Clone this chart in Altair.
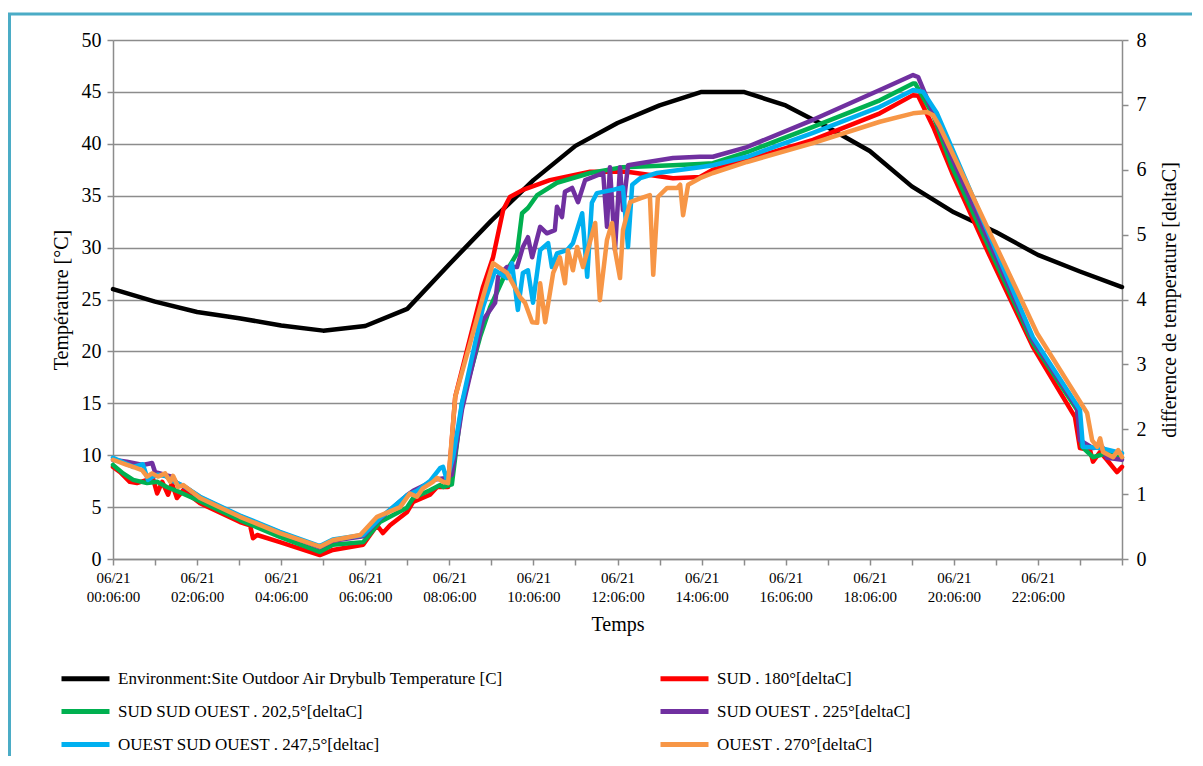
import altair as alt
import pandas as pd

FONT = "Liberation Serif"

# ---------------- data ----------------
hours = list(range(25))  # hours after 06/21 00:06:00
env_temp = [26.0, 24.8, 23.8, 23.2, 22.5, 22.0, 22.45, 24.1, 28.4, 32.6, 36.5, 39.8,
            42.0, 43.7, 45.0, 45.0, 43.7, 41.6, 39.3, 35.9, 33.4, 31.5, 29.3, 27.7, 26.2]

sud_t = [0, 0.17, 0.40, 0.57, 0.81, 0.93, 1.05, 1.17, 1.31, 1.40, 1.52, 1.67, 2.07, 3.02, 3.26,
         3.33, 3.43, 3.97, 4.92, 5.23, 5.95, 6.28, 6.42, 6.59, 6.99, 7.14, 7.54, 7.71, 7.97, 8.14,
         8.80, 9.04, 9.28, 9.44, 9.75, 10.39, 11.35, 12.23, 13.32, 13.96, 14.27, 15.08, 16.65,
         18.24, 19.03, 19.15, 19.51, 19.96, 20.79, 21.88, 22.88, 23.00, 23.24, 23.31, 23.48,
         23.64, 23.88, 24.00]
sud_v = [1.42, 1.34, 1.19, 1.17, 1.22, 1.29, 1.01, 1.19, 0.99, 1.17, 0.94, 1.06, 0.86, 0.57, 0.52,
         0.32, 0.37, 0.26, 0.06, 0.14, 0.22, 0.52, 0.40, 0.52, 0.72, 0.88, 0.99, 1.11, 1.11, 2.50,
         4.19, 4.65, 5.38, 5.58, 5.69, 5.84, 5.97, 5.97, 5.87, 5.89, 6.00, 6.15, 6.46,
         6.87, 7.15, 7.14, 6.66, 5.95, 4.76, 3.27, 2.19, 1.71, 1.68, 1.50, 1.65,
         1.53, 1.34, 1.42]

sso_t = [0, 0.24, 0.48, 0.81, 1.05, 1.28, 1.59, 2.07, 3.02, 3.97, 4.92, 5.23, 5.95, 6.35, 6.99,
         7.14, 7.54, 7.78, 7.85, 8.06, 8.30, 8.73, 8.97, 9.37, 9.61, 9.73, 9.87, 10.09, 10.56,
         11.35, 12.13, 13.32, 13.96, 14.27, 15.08, 16.65, 18.24, 19.03, 19.08, 19.51, 19.96,
         21.88, 22.93, 23.05, 23.31, 23.64, 24.00]
sso_v = [1.45, 1.32, 1.22, 1.17, 1.19, 1.11, 1.03, 0.89, 0.60, 0.34, 0.11, 0.22, 0.26, 0.57, 0.79,
         0.94, 1.06, 1.14, 1.11, 1.15, 2.40, 3.42, 3.88, 4.45, 4.71, 5.33, 5.41, 5.61, 5.80,
         5.95, 6.04, 6.07, 6.09, 6.10, 6.27, 6.66, 7.07, 7.33, 7.33, 6.84, 6.04,
         3.33, 2.30, 1.73, 1.57, 1.63, 1.56]

so_t = [0, 0.33, 0.71, 0.93, 1.00, 1.12, 1.28, 1.40, 1.52, 1.76, 2.07, 3.02, 3.97, 4.92, 5.23,
        5.95, 6.35, 6.99, 7.14, 7.54, 7.61, 7.94, 8.06, 8.30, 8.80, 9.09, 9.16, 9.37, 9.61, 9.75,
        9.87, 9.97, 10.16, 10.32, 10.51, 10.56, 10.68, 10.75, 10.92, 11.06, 11.23, 11.66, 11.75,
        11.82, 11.94, 12.06, 12.13, 12.25, 12.54, 13.32, 13.96, 14.27, 15.08, 16.65, 18.24,
        19.03, 19.15, 19.51, 19.98, 21.88, 22.93, 23.00, 23.31, 23.53, 23.64, 24.00]
so_v = [1.53, 1.50, 1.45, 1.48, 1.34, 1.32, 1.29, 1.27, 1.17, 1.09, 0.95, 0.66, 0.41, 0.18, 0.28,
        0.35, 0.62, 0.98, 1.05, 1.18, 1.22, 1.25, 1.30, 2.30, 3.68, 3.95, 4.35, 4.50, 4.50, 4.81,
        4.96, 4.65, 5.12, 5.02, 5.07, 5.43, 5.27, 5.66, 5.72, 5.50, 5.84, 5.95, 5.12,
        6.04, 4.76, 6.04, 5.38, 6.07, 6.10, 6.18, 6.20, 6.20, 6.35, 6.77, 7.23,
        7.46, 7.43, 6.87, 6.15, 3.38, 2.34, 1.83, 1.71, 1.73, 1.56, 1.53]

oso_t = [0, 0.48, 0.71, 0.83, 0.95, 1.07, 1.24, 1.43, 1.67, 2.07, 3.02, 3.97, 4.92, 5.23, 5.95,
         6.35, 6.99, 7.23, 7.54, 7.78, 7.85, 7.94, 8.09, 8.30, 8.80, 9.09, 9.37, 9.49, 9.63, 9.75,
         9.87, 9.99, 10.16, 10.35, 10.44, 10.56, 10.80, 10.94, 11.16, 11.28, 11.39, 11.51, 11.89,
         12.13, 12.25, 12.35, 12.54, 12.94, 13.96, 14.27, 15.08, 16.65, 18.24, 19.03, 19.27,
         19.60, 20.08, 21.88, 23.00, 23.07, 23.48, 24.00]
oso_v = [1.56, 1.42, 1.46, 1.22, 1.27, 1.30, 1.28, 1.20, 1.13, 0.96, 0.67, 0.42, 0.20, 0.30, 0.37,
         0.63, 0.98, 1.05, 1.20, 1.40, 1.42, 1.22, 1.57, 2.40, 3.88, 4.45, 4.33, 4.56, 3.84, 4.41,
         4.45, 3.95, 4.76, 4.87, 4.50, 4.71, 4.76, 4.87, 5.33, 4.35, 5.49, 5.64, 5.69,
         5.73, 4.81, 5.77, 5.87, 5.95, 6.04, 6.07, 6.20, 6.57, 6.97, 7.23, 7.20,
         6.87, 6.15, 3.42, 2.30, 1.73, 1.71, 1.63]

ouest_t = [0, 0.33, 0.48, 0.69, 0.81, 0.93, 1.07, 1.24, 1.36, 1.43, 1.55, 1.67, 2.07, 3.02, 3.97,
           4.92, 5.23, 5.88, 6.28, 6.83, 7.06, 7.23, 7.37, 7.61, 7.71, 7.85, 7.97, 8.14, 8.80,
           9.04, 9.37, 9.68, 9.80, 9.97, 10.09, 10.16, 10.28, 10.47, 10.63, 10.75, 10.82, 10.94,
           11.04, 11.18, 11.47, 11.58, 11.75, 11.87, 11.94, 12.06, 12.13, 12.30, 12.54, 12.77,
           12.85, 12.96, 13.18, 13.42, 13.49, 13.56, 13.68, 13.96, 14.27, 15.08, 16.65, 18.24,
           19.03, 19.36, 19.51, 19.67, 20.08, 21.98, 23.17, 23.29, 23.41, 23.48, 23.55, 23.79,
           23.91, 24.00]
ouest_v = [1.53, 1.45, 1.42, 1.37, 1.27, 1.32, 1.27, 1.32, 1.19, 1.28, 1.11, 1.14, 0.94, 0.65, 0.40,
           0.19, 0.29, 0.37, 0.65, 0.80, 1.01, 0.96, 1.09, 1.19, 1.25, 1.19, 1.17, 2.50, 4.04,
           4.56, 4.41, 4.04, 3.95, 3.65, 3.64, 4.25, 3.65, 4.41, 4.65, 4.25, 4.76, 4.45,
           4.81, 4.50, 5.18, 3.99, 4.92, 5.18, 4.76, 4.33, 5.07, 5.50, 5.56, 5.61,
           4.38, 5.58, 5.72, 5.72, 5.77, 5.30, 5.77, 5.87, 5.95, 6.12, 6.41, 6.74,
           6.87, 6.89, 6.84, 6.66, 6.10, 3.48, 2.25, 1.83, 1.73, 1.86, 1.65, 1.57,
           1.68, 1.57]

names = ["Environment:Site Outdoor Air Drybulb Temperature [C]",
         "SUD . 180°[deltaC]",
         "SUD SUD OUEST . 202,5°[deltaC]",
         "SUD OUEST . 225°[deltaC]",
         "OUEST SUD OUEST . 247,5°[deltac]",
         "OUEST . 270°[deltaC]"]
colors = ["#000000", "#FF0000", "#00B050", "#7030A0", "#00B0F0", "#F79646"]

# legend is filled column by column: left column Env / SSO / OSO, right column SUD / SO / OUEST
legend_order = [0, 2, 4, 1, 3, 5]

# ---------------- encodings ----------------
W, H = 1009, 519

color_scale = alt.Scale(domain=[names[i] for i in legend_order],
                        range=[colors[i] for i in legend_order])
# a wide but short line symbol: the small symbol size keeps the legend rows tight
legend = alt.Legend(
    title=None, orient="none", legendX=-36, legendY=630, columns=2,
    columnPadding=146, rowPadding=12, symbolType="M-4.8,0H4.8", symbolSize=100,
    symbolStrokeWidth=5, labelFont=FONT, labelFontSize=17, labelColor="#000000",
    labelLimit=800, labelOffset=24, padding=0,
)

x_enc = alt.X(
    "t:Q",
    scale=alt.Scale(domain=[0, 24], nice=False, zero=False),
    axis=alt.Axis(
        values=hours, grid=False, title="Temps", titleFontSize=20, titlePadding=10,
        labelExpr="datum.value % 2 == 0 && datum.value < 24 ? ['06/21', (datum.value < 10 ? '0' : '') + datum.value + ':06:00'] : ''",
        labelFontSize=15, labelLineHeight=19, labelPadding=5, labelOverlap=False,
        labelFlush=False, labelBound=False, tickSize=6,
    ),
)

left_axis = alt.Axis(
    orient="left", values=list(range(0, 55, 5)), grid=True, title="Température [°C]",
    titleFontSize=20, titlePadding=10, labelFontSize=20, labelPadding=6, tickSize=6,
)
right_axis = alt.Axis(
    orient="right", values=list(range(0, 9)), grid=False,
    title="difference de temperature [deltaC]", titleAngle=270, titleBaseline="top",
    titleFontSize=20, titlePadding=13, labelFontSize=20, labelPadding=8, tickSize=6,
)


def series_df(t, v, name):
    assert len(t) == len(v), name
    return pd.DataFrame({"t": t, "v": v, "serie": name})


line_kw = dict(strokeWidth=4.5, strokeJoin="round", strokeCap="round")

env = alt.Chart(series_df(hours, env_temp, names[0])).mark_line(**line_kw).encode(
    x=x_enc,
    y=alt.Y("v:Q", scale=alt.Scale(domain=[0, 50], nice=False), axis=left_axis),
    color=alt.Color("serie:N", scale=color_scale, legend=legend),
)

delta_series = [(sud_t, sud_v), (sso_t, sso_v), (so_t, so_v), (oso_t, oso_v), (ouest_t, ouest_v)]
delta_layers = []
for (t, v), name in zip(delta_series, names[1:]):
    delta_layers.append(
        alt.Chart(series_df(t, v, name)).mark_line(**line_kw).encode(
            x=x_enc,
            y=alt.Y("v:Q", scale=alt.Scale(domain=[0, 8], nice=False), axis=right_axis),
            color=alt.Color("serie:N", scale=color_scale, legend=legend),
        )
    )
deltas = alt.layer(*delta_layers)

frame = alt.Chart(pd.DataFrame({"k": [0]})).mark_rect(
    fillOpacity=0, stroke="#4BACC6", strokeWidth=3
).encode(
    x=alt.value(-103.5), x2=alt.value(W + 200),
    y=alt.value(-26), y2=alt.value(H + 400),
)

chart = alt.layer(frame, env, deltas).resolve_scale(y="independent").properties(
    width=W, height=H,
    autosize=alt.AutoSizeParams(type="none"),
    padding={"left": 105, "top": 32, "right": 70, "bottom": 197},
).configure_view(strokeWidth=0).configure_axis(
    labelFont=FONT, titleFont=FONT, labelColor="#000000", titleColor="#000000",
    titleFontWeight="normal", domainColor="#8c8c8c", tickColor="#8c8c8c",
    gridColor="#8c8c8c", domainWidth=1.5, tickWidth=1.5, gridWidth=1.5,
)

chart.save("out.html", embed_options={"renderer": "svg", "actions": False})
